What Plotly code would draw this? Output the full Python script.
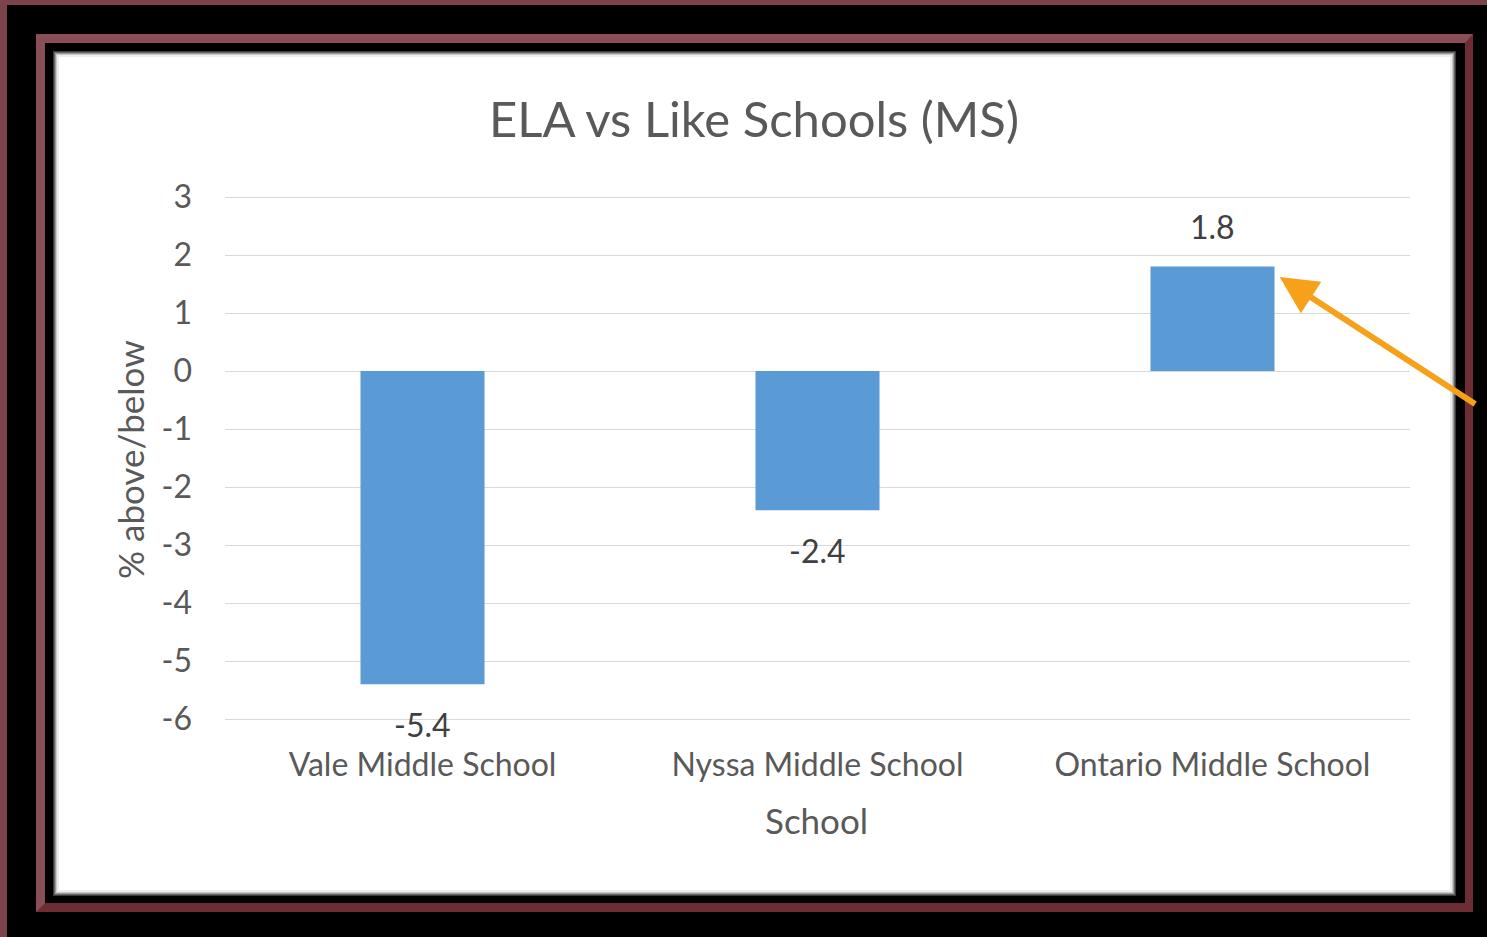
import plotly.graph_objects as go

# ---- data ----
schools = ["Vale Middle School", "Nyssa Middle School", "Ontario Middle School"]
values = [-5.4, -2.4, 1.8]
y_ticks = [3, 2, 1, 0, -1, -2, -3, -4, -5, -6]
y_tick_labels = ["3", "2", "1", "0", "-1", "-2", "-3", "-4", "-5", "-6"]
title_text = "ELA vs Like Schools (MS)"
x_title = "School"
y_title = "% above/below"

W, H = 1487, 937
EXT = 0.0345                      # tiny range padding so the end gridlines show
L, R, T, B = 225, 1410, 195, 721  # plot area in pixels
PW, PH = R - L, B - T
FONT = "Lato, Carlito, Calibri, sans-serif"


def px(x):
    return (x - L) / PW


def py(y):
    return (B - y) / PH


def rect(x0, y0, x1, y1, color):
    return dict(type="rect", xref="paper", yref="paper", layer="below",
                x0=px(x0), x1=px(x1), y0=py(y1), y1=py(y0),
                fillcolor=color, line=dict(width=0))


shapes = [
    rect(7, 5, 1600, 1000, "#000000"),
    rect(36, 34, 1473, 912, "#6d2d33"),
    dict(type="path", xref="paper", yref="paper", layer="below",
         path=(f"M {px(36)},{py(34)} L {px(1473)},{py(34)} L {px(1465)},{py(43)} "
               f"L {px(45)},{py(43)} L {px(45)},{py(903)} L {px(36)},{py(912)} Z"),
         fillcolor="#8a4e56", line=dict(width=0)),
    rect(45, 43, 1465, 903, "#000000"),
    rect(53, 51, 1456, 896, "#3a3a3a"),
    rect(54, 52, 1455, 895, "#666666"),
    rect(55, 53, 1454, 894, "#999999"),
    rect(56, 54, 1453, 893, "#c8c8c8"),
    rect(57, 55, 1452, 892, "#ececec"),
    rect(59, 57, 1450, 890, "#ffffff"),
]

fig = go.Figure()
fig.add_trace(go.Bar(
    x=schools, y=values,
    marker=dict(color="#5B9BD5", line=dict(width=0)),
    width=0.314,
    hoverinfo="skip",
))

annotations = []
for s, v in zip(schools, values):
    annotations.append(dict(
        x=s, y=v, xref="x", yref="y", text=f"{v:.1f}",
        showarrow=False, yanchor="middle", yshift=(40 if v >= 0 else -40),
        font=dict(family=FONT, size=32, color="#404040"),
    ))

# axis titles
annotations.append(dict(
    x=px(816), y=py(820), xref="paper", yref="paper", text=x_title,
    showarrow=False, xanchor="center", yanchor="middle",
    font=dict(family=FONT, size=35, color="#595959"),
))
annotations.append(dict(
    x=px(130), y=py(460), xref="paper", yref="paper", text=y_title,
    showarrow=False, xanchor="center", yanchor="middle", textangle=-90,
    font=dict(family=FONT, size=35, color="#595959"),
))

# orange callout arrow pointing at the last bar
annotations.append(dict(
    x=2.17, y=1.62, xref="x", yref="y", ax=197, ay=128,
    text="", showarrow=True, arrowhead=2, arrowsize=1.25, arrowwidth=6,
    arrowcolor="#F7A11A", standoff=0,
))

fig.update_layout(
    width=W, height=H,
    margin=dict(l=L, r=W - R, t=T, b=H - B, pad=0),
    paper_bgcolor="#7d434b",
    plot_bgcolor="rgba(0,0,0,0)",
    shapes=shapes,
    annotations=annotations,
    showlegend=False,
    title=dict(text=title_text, x=754 / W, xref="container", xanchor="center",
               y=1 - 120 / H, yref="container", yanchor="middle",
               font=dict(family=FONT, size=49, color="#595959")),
    font=dict(family=FONT, color="#595959"),
)
fig.update_yaxes(
    range=[-6 - EXT, 3 + EXT], autorange=False,
    tickvals=y_ticks, ticktext=y_tick_labels,
    showgrid=True, gridcolor="#d9d9d9", gridwidth=1.3,
    zeroline=True, zerolinecolor="#d9d9d9", zerolinewidth=1.3,
    showline=False, ticks="", ticklabelstandoff=32,
    tickfont=dict(family=FONT, size=32, color="#595959"),
)
fig.update_xaxes(
    range=[-0.5, 2.5], autorange=False,
    showgrid=False, zeroline=False, showline=False, ticks="",
    ticklabelstandoff=22,
    tickfont=dict(family=FONT, size=32, color="#595959"),
)

fig.write_html(
    "out.html",
    config={"displayModeBar": False},
    post_script="document.body.style.margin='0';document.body.style.overflow='hidden';",
)
